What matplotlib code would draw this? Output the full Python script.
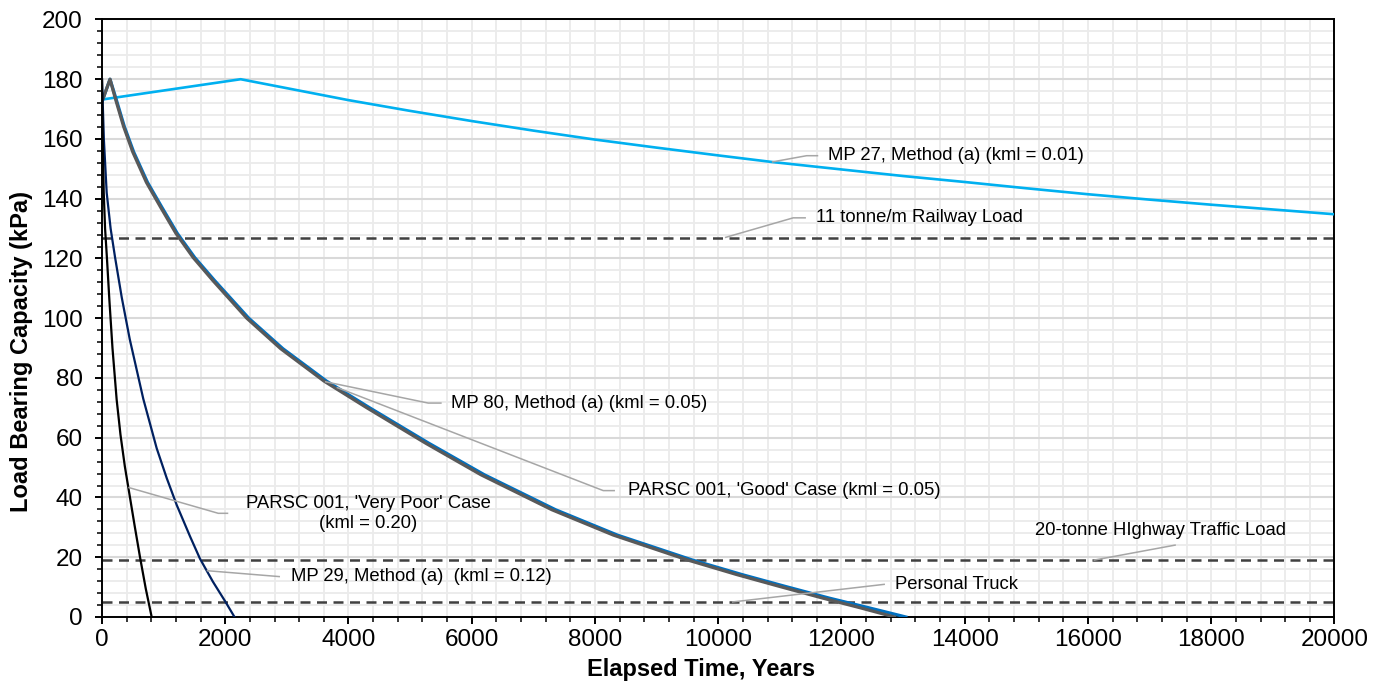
import numpy as np
import matplotlib
matplotlib.use("Agg")
import matplotlib.pyplot as plt
from matplotlib.ticker import MultipleLocator

plt.rcParams["font.family"] = ["Liberation Sans", "DejaVu Sans"]

# ---- series (elapsed time in years, capacity in kPa) ----
mp27_t = [0, 2250, 3000, 4000, 5000, 6000, 7000, 8000, 9000, 10000, 10871,
          12000, 13000, 14000, 15000, 16000, 17000, 18000, 19000, 20000]
mp27_v = [173.2, 180, 177.0, 173.0, 169.4, 166.0, 162.8, 159.8, 157.1, 154.5,
          152.3, 149.8, 147.6, 145.6, 143.5, 141.5, 139.7, 138.0, 136.4, 134.8]

mp80_t = [0, 130, 210, 350, 500, 720, 950, 1200, 1480, 1800, 2350, 2900,
          3600, 4300, 5250, 6150, 7300, 8300, 9500, 10300, 11000, 11700,
          12300, 12860]
mp80_v = [172.5, 180, 174, 164.2, 155.6, 145.5, 137.2, 128.4, 120.3, 112.6,
          100.0, 89.8, 79.0, 70.0, 58.2, 47.6, 35.9, 27.4, 19.1, 14.2, 10.2,
          6.3, 3.1, 0]

good_t = [0, 130, 220, 362, 515, 738, 970, 1222, 1505, 1828, 2382, 2936,
          3640, 4345, 5300, 6205, 7360, 8365, 9575, 10385, 11095, 11805,
          12440, 13045]
good_v = [172.5, 180, 174, 164.2, 155.6, 145.5, 137.2, 128.4, 120.3, 112.6,
          100.0, 89.8, 79.0, 70.0, 58.2, 47.6, 35.9, 27.4, 19.1, 14.2, 10.2,
          6.3, 3.1, 0]

mp29_t = [0, 30, 76, 140, 211, 320, 450, 560, 670, 887, 1050, 1212, 1428,
          1590, 1800, 2000, 2150]
mp29_v = [180, 160, 142, 130, 120.5, 107, 93, 83, 73, 56.5, 46.5, 37.5, 27,
          19.5, 11.8, 5.2, 0]

poor_t = [0, 12, 28, 50, 79, 120, 170, 238, 300, 370, 454, 530, 617, 710, 806]
poor_v = [180, 160, 142, 130, 120.5, 106, 90, 72.7, 61, 50.5, 40, 30.5, 20,
          9.5, 0]

# reference load levels (kPa)
railway_load = 127
highway_load = 19
truck_load = 5

x_ticks = list(range(0, 20001, 2000))
y_ticks = list(range(0, 201, 20))

# ---- figure ----
fig = plt.figure(figsize=(13.84, 6.93), dpi=100)
ax = fig.add_axes([0.0737, 0.1097, 0.8905, 0.8622])

ax.set_xlim(0, 20000)
ax.set_ylim(0, 200)
ax.set_xticks(x_ticks)
ax.set_yticks(y_ticks)
ax.xaxis.set_minor_locator(MultipleLocator(400))
ax.yaxis.set_minor_locator(MultipleLocator(4))

ax.grid(which="minor", axis="both", color="#EBEBEB", linewidth=1.3, zorder=0)
ax.grid(which="major", axis="x", color="#EBEBEB", linewidth=1.3, zorder=0)
ax.grid(which="major", axis="y", color="#D9D9D9", linewidth=1.5, zorder=0)
ax.set_axisbelow(True)

for s in ax.spines.values():
    s.set_color("black")
    s.set_linewidth(1.4)

ax.tick_params(which="major", direction="out", length=5, width=1.4,
               labelsize=17.5, pad=4, colors="black")
ax.tick_params(which="minor", direction="out", length=3.5, width=1.1)
ax.tick_params(axis="y", pad=9)

# load levels
dash_kw = dict(color="#404040", linewidth=1.8, dashes=(4, 2.6), zorder=2)
for lvl in (railway_load, highway_load, truck_load):
    ax.axhline(lvl, **dash_kw)

# capacity curves
ax.plot(mp27_t, mp27_v, color="#00B0F0", linewidth=1.9, zorder=3)
ax.plot(good_t, good_v, color="#0070C0", linewidth=2.3, zorder=3)
ax.plot(mp80_t, mp80_v, color="#595959", linewidth=2.3, zorder=4)
ax.plot(mp29_t, mp29_v, color="#002060", linewidth=1.6, zorder=5)
ax.plot(poor_t, poor_v, color="black", linewidth=1.6, zorder=5)

ax.set_xlabel("Elapsed Time, Years", fontsize=17, fontweight="bold")
ax.set_ylabel("Load Bearing Capacity (kPa)", fontsize=17, fontweight="bold")
ax.xaxis.set_label_coords(0.486, -0.069)
ax.yaxis.set_label_coords(-0.0556, 0.445)

# ---- callouts with leader lines ----
lead_kw = dict(color="#A6A6A6", linewidth=1.1, zorder=6, solid_capstyle="butt")
txt_kw = dict(fontsize=13.3, color="black", va="center", zorder=7)


def callout(xs, ys, text, tx, ty, **kw):
    ax.plot(xs, ys, **lead_kw)
    opts = dict(txt_kw)
    opts.update(kw)
    ax.text(tx, ty, text, **opts)


a = 10871
callout([a, 11434, 11623], [np.interp(a, mp27_t, mp27_v), 154.4, 154.4],
        "MP 27, Method (a) (kml = 0.01)", 11780, 154.4)
callout([10109, 11217, 11423], [railway_load, 133.6, 133.6],
        "11 tonne/m Railway Load", 11585, 133.6)
a = 3618
callout([a, 5294, 5512], [np.interp(a, mp80_t, mp80_v), 71.6, 71.6],
        "MP 80, Method (a) (kml = 0.05)", 5658, 71.6)
a = 3808
callout([a, 8134, 8324], [np.interp(a, good_t, good_v), 42.3, 42.3],
        "PARSC 001, 'Good' Case (kml = 0.05)", 8540, 42.3)
a = 427
callout([a, 1887, 2049], [np.interp(a, poor_t, poor_v), 34.7, 34.7],
        "PARSC 001, 'Very Poor' Case\n(kml = 0.20)", 4316, 34.7,
        ha="center", multialignment="center", linespacing=1.2)
a = 1699
callout([a, 2888], [np.interp(a, mp29_t, mp29_v), 13.5],
        "MP 29, Method (a)  (kml = 0.12)", 3067, 13.5)
callout([16091, 17426], [highway_load, 24.1],
        "20-tonne HIghway Traffic Load", 17184, 28.9, ha="center")
callout([10222, 12705], [truck_load, 10.95],
        "Personal Truck", 12862, 11.0)

fig.savefig("out.png", dpi=100)
